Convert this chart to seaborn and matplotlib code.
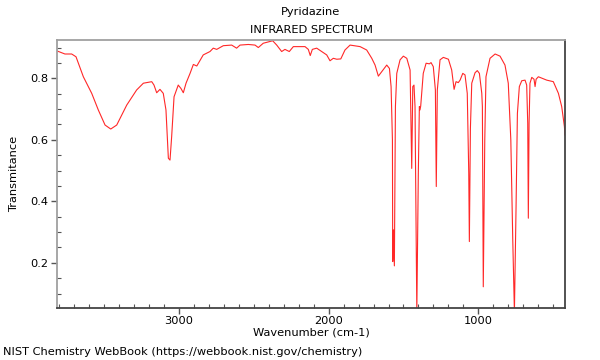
import matplotlib
matplotlib.use("Agg")
import matplotlib.pyplot as plt
from matplotlib.ticker import MultipleLocator
import seaborn as sns
import pandas as pd

wavenumber = [3815, 3762, 3717, 3688, 3639, 3583, 3539, 3494, 3456, 3416, 3349, 3283, 3238,
              3182, 3167, 3149, 3127, 3105, 3087, 3071, 3060, 3049, 3033, 3005, 2987, 2971,
              2953, 2926, 2904, 2881, 2838, 2793, 2771, 2748, 2704, 2648, 2615, 2592, 2537,
              2492, 2470, 2437, 2374, 2347, 2314, 2292, 2263, 2236, 2158, 2136, 2123, 2109,
              2080, 2046, 2013, 1991, 1969, 1946, 1919, 1891, 1857, 1790, 1746, 1712, 1690,
              1668, 1612, 1594, 1583, 1574, 1572, 1567, 1561, 1554, 1545, 1523, 1501, 1478,
              1456, 1445, 1438, 1430, 1423, 1411, 1401, 1394, 1390, 1385, 1368, 1349, 1327,
              1316, 1301, 1287, 1281, 1274, 1256, 1234, 1200, 1178, 1162, 1149, 1134, 1122,
              1104, 1089, 1074, 1064, 1060, 1055, 1053, 1044, 1022, 1007, 993, 977, 973, 967,
              957, 949, 922, 888, 855, 822, 800, 783, 770, 759, 748, 739, 726, 710, 688, 677,
              670, 666, 661, 655, 643, 628, 621, 614, 599, 543, 499, 465, 443, 425, 421]
transmittance = [0.889, 0.879, 0.879, 0.870, 0.805, 0.751, 0.697, 0.648, 0.635, 0.648, 0.713,
                 0.762, 0.784, 0.789, 0.778, 0.753, 0.764, 0.751, 0.697, 0.540, 0.534, 0.610,
                 0.740, 0.778, 0.767, 0.753, 0.784, 0.816, 0.845, 0.840, 0.876, 0.887, 0.898,
                 0.894, 0.906, 0.908, 0.898, 0.908, 0.910, 0.908, 0.900, 0.914, 0.922, 0.908,
                 0.887, 0.894, 0.887, 0.903, 0.903, 0.894, 0.874, 0.894, 0.898, 0.887, 0.876,
                 0.857, 0.865, 0.862, 0.863, 0.892, 0.908, 0.903, 0.892, 0.865, 0.843, 0.807,
                 0.843, 0.832, 0.773, 0.600, 0.204, 0.307, 0.190, 0.708, 0.816, 0.860, 0.872,
                 0.865, 0.827, 0.507, 0.773, 0.778, 0.708, 0.040, 0.491, 0.708, 0.697, 0.710,
                 0.816, 0.849, 0.847, 0.851, 0.838, 0.762, 0.448, 0.762, 0.860, 0.868, 0.862,
                 0.827, 0.764, 0.789, 0.786, 0.794, 0.816, 0.811, 0.751, 0.491, 0.269, 0.545,
                 0.637, 0.784, 0.818, 0.825, 0.816, 0.751, 0.708, 0.122, 0.600, 0.805, 0.865,
                 0.879, 0.872, 0.843, 0.784, 0.600, 0.274, 0.040, 0.382, 0.686, 0.773, 0.792,
                 0.794, 0.778, 0.654, 0.345, 0.654, 0.784, 0.803, 0.797, 0.773, 0.797, 0.805,
                 0.794, 0.789, 0.751, 0.708, 0.643, 0.615]

title_lines = ["Pyridazine", "INFRARED SPECTRUM"]
x_label = "Wavenumber (cm-1)"
y_label = "Transmitance"
footer = "NIST Chemistry WebBook (https://webbook.nist.gov/chemistry)"

sns.set_style("ticks")
plt.rcParams['font.family'] = ['DejaVu Sans']
plt.rcParams['text.color'] = 'black'
plt.rcParams['axes.labelcolor'] = 'black'
FS = 8.2

df = pd.DataFrame({"wn": wavenumber, "T": transmittance})

fig = plt.figure(figsize=(6, 3.6), dpi=100)
ax = fig.add_axes([57 / 600, 1 - 308 / 360, (565 - 57) / 600, (308 - 39.7) / 360])
sns.lineplot(data=df, x="wn", y="T", ax=ax, sort=False, estimator=None,
             color="#ff2828", linewidth=0.8)

ax.set_xlim(3815, 421)
ax.set_ylim(0.053, 0.9255)
ax.xaxis.set_major_locator(MultipleLocator(1000))
ax.xaxis.set_minor_locator(MultipleLocator(100))
ax.yaxis.set_major_locator(MultipleLocator(0.2))
ax.yaxis.set_minor_locator(MultipleLocator(0.05))
ax.tick_params(which="major", direction="out", length=4, width=1, color="#555555",
               labelsize=FS, labelcolor="black", pad=2)
ax.tick_params(which="minor", direction="in", length=3, width=0.8, color="#555555")

for side in ["top", "left"]:
    ax.spines[side].set_color("#a0a0a0")
    ax.spines[side].set_linewidth(1.3)
for side in ["bottom", "right"]:
    ax.spines[side].set_color("#444444")
    ax.spines[side].set_linewidth(1.3)

ax.set_xlabel(x_label, fontsize=FS, labelpad=1, color="black")
ax.set_ylabel(y_label, fontsize=FS, labelpad=8, color="black")
fig.text(311 / 600, 1 - 12 / 360, title_lines[0], ha="center", va="center", fontsize=FS)
fig.text(311 / 600, 1 - 30 / 360, title_lines[1], ha="center", va="center", fontsize=FS)
fig.text(3 / 600, 1 - 352 / 360, footer, ha="left", va="center", fontsize=FS)

fig.savefig("out.png", dpi=100)
